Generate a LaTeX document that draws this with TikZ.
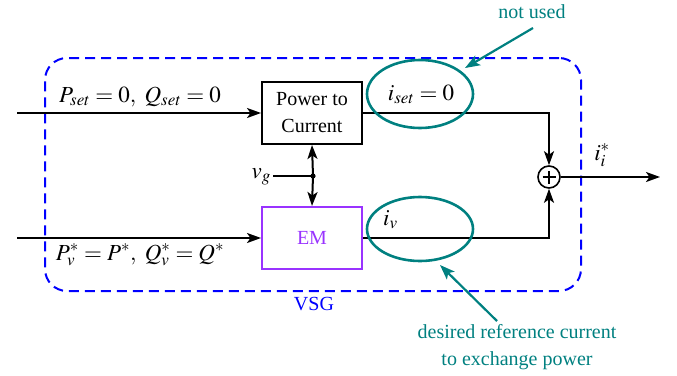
\documentclass[tikz,border=0pt]{standalone}
\usepackage{mathptmx}
\usepackage{fontspec}
\setmainfont{Liberation Serif}
\usetikzlibrary{arrows.meta,shapes.geometric}
\definecolor{tealc}{RGB}{0,128,128}
\definecolor{vsgblue}{RGB}{0,0,255}
\definecolor{empurple}{RGB}{153,51,255}
\tikzset{
  x=1pt,y=1pt,
  every node/.style={font=\fontsize{20}{27}\selectfont},
  mathlbl/.style={inner sep=0pt,font=\fontsize{23}{27}\selectfont},
  wire/.style={line width=2pt,black},
  arr/.style={wire,-{Stealth[length=14pt,width=10pt,inset=3.5pt]}},
  blockbox/.style={draw,line width=2pt,minimum width=100pt,minimum height=62pt,align=center,inner sep=0pt},
  embox/.style={blockbox,draw=empurple,text=empurple},
  vsgbox/.style={draw=vsgblue,line width=2pt,dash pattern=on 10pt off 6pt,rounded corners=22pt,minimum width=536pt,minimum height=233pt},
  hilite/.style={ellipse,draw=tealc,line width=2.6pt,minimum width=106pt,inner sep=0pt},
  notearr/.style={tealc,line width=2.2pt,-{Stealth[length=15pt,width=11pt,inset=3.5pt]}},
  note/.style={text=tealc,inner sep=0pt}
}
\begin{document}
\begin{tikzpicture}
\useasboundingbox (0,0) rectangle (677,-375);
% VSG region
\node[vsgbox] (vsg) at (313,-174.5) {};
\node[text=vsgblue,anchor=base,inner sep=0pt] (vsglbl) at (314,-310) {VSG};
% blocks
\node[blockbox] (pc) at (312,-113) {Power to\\Current};
\node[embox] (em) at (312,-238) {EM};
\node[circle,draw,line width=1.6pt,minimum size=22pt,inner sep=0pt] (sum) at (549,-177) {};
\draw[line width=1.4pt] ([xshift=-6.5pt]sum.center) -- ([xshift=6.5pt]sum.center) ([yshift=-6.5pt]sum.center) -- ([yshift=6.5pt]sum.center);
% coordinates
\coordinate (in1) at (17,-113);
\coordinate (in2) at (17,-238);
\coordinate (out) at (660,-177);
\coordinate (jn) at (313,-176);
\coordinate (vgs) at (273,-176);
% connectors
\draw[arr] (in1) -- (pc.west);
\draw[arr] (in2) -- (em.west);
\draw[arr] (pc.east) -| (sum.north);
\draw[arr] (em.east) -| (sum.south);
\draw[arr] (sum.east) -- (out);
\draw[wire] (vgs) -- (jn);
\fill (jn) circle (2.6pt);
\draw[arr] (jn) -- (pc.south);
\draw[arr] (jn) -- (em.north);
% labels
\node[mathlbl,anchor=base] (lset) at (140,-102) {$P_{set}=0,\ Q_{set}=0$};
\node[mathlbl,anchor=base] (lv) at (140,-260) {$P_v^{*}=P^{*},\ Q_v^{*}=Q^{*}$};
\node[mathlbl,anchor=base east] (lvg) at (271,-178) {$v_g$};
\node[mathlbl,anchor=base] (liset) at (421,-100) {$i_{set}=0$};
\node[mathlbl,anchor=base west] (liv) at (383,-225) {$i_v$};
\node[mathlbl,anchor=base] (lout) at (602,-160) {$i_i^{*}$};
% highlights
\node[hilite,minimum height=68pt] (e1) at (420,-94) {};
\node[hilite,minimum height=64pt] (e2) at (420,-229) {};
% notes
\node[note,anchor=base] (nu) at (532,-18) {not used};
\node[note,align=center] (dr) at (517,-347) {desired reference current\\to exchange power};
\coordinate (nustart) at (533,-28);
\coordinate (nuend) at (465,-68);
\coordinate (drstart) at (497,-321);
\coordinate (drend) at (440,-265);
\draw[notearr] (nustart) -- (nuend);
\draw[notearr] (drstart) -- (drend);
\end{tikzpicture}
\end{document}
